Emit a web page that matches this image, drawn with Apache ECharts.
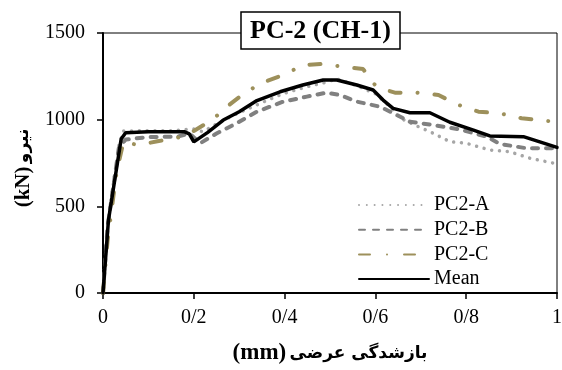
<!DOCTYPE html>
<html>
<head>
<meta charset="utf-8">
<script src="https://cdn.jsdelivr.net/npm/echarts@6/dist/echarts.min.js"></script>
<style>html,body{margin:0;padding:0;background:#fff}#c{width:562px;height:370px}</style>
</head>
<body>
<div id="c"></div>
<script>
const seriesNames = ['PC2-A', 'PC2-B', 'PC2-C', 'Mean'];
const xTickLabels = ['0', '0/2', '0/4', '0/6', '0/8', '1'];
const yTickLabels = ['0', '500', '1000', '1500'];

const pc2A = [[0,0],[0.01,400],[0.035,850],[0.045,935],[0.1,936],[0.15,936],[0.2,946],[0.22,930],[0.26,990],[0.3,1040],[0.346,1094],[0.397,1150],[0.449,1190],[0.49,1215],[0.515,1235],[0.56,1195],[0.6,1150],[0.63,1080],[0.654,1010],[0.69,965],[0.72,931],[0.764,873],[0.8,864],[0.852,825],[0.896,815],[0.941,777],[1,745]];
const pc2B = [[0,0],[0.01,380],[0.035,840],[0.05,885],[0.1,900],[0.165,902],[0.19,921],[0.214,864],[0.25,920],[0.294,979],[0.339,1046],[0.397,1104],[0.449,1133],[0.493,1156],[0.522,1142],[0.559,1104],[0.61,1075],[0.647,1027],[0.676,988],[0.728,969],[0.786,944],[0.845,902],[0.874,860],[0.933,835],[1,835]];
const pc2C = [[0,0],[0.01,300],[0.03,700],[0.045,870],[0.078,854],[0.12,875],[0.175,902],[0.2,935],[0.24,998],[0.278,1085],[0.313,1156],[0.353,1215],[0.397,1258],[0.441,1315],[0.482,1321],[0.529,1306],[0.573,1292],[0.595,1210],[0.61,1181],[0.643,1156],[0.691,1156],[0.739,1142],[0.783,1085],[0.827,1046],[0.874,1037],[0.922,1008],[0.974,994],[1,985]];
const mean = [[0,0],[0.012,420],[0.04,888],[0.05,925],[0.1,930],[0.18,930],[0.19,918],[0.2,872],[0.23,925],[0.265,998],[0.3,1046],[0.339,1110],[0.39,1161],[0.44,1200],[0.485,1229],[0.515,1229],[0.559,1200],[0.595,1171],[0.617,1113],[0.639,1065],[0.676,1040],[0.72,1040],[0.764,985],[0.816,940],[0.852,906],[0.926,902],[1,840]];

const FF = "'Liberation Serif', 'DejaVu Serif', serif";
const FA = "'DejaVu Sans', sans-serif";
const chart = echarts.init(document.getElementById('c'), null, {renderer: 'canvas'});

const styles = [
  {color: '#a6a6a6', width: 3.5, type: [0.01, 7.8], cap: 'round'},
  {color: '#808080', width: 4, type: [6, 8], cap: 'round'},
  {color: '#9d905b', width: 4, type: [11, 17, 0.01, 17], cap: 'round'},
  {color: '#000000', width: 3.5, type: 'solid', cap: 'round'}
];
const datas = [pc2A, pc2B, pc2C, mean];

chart.setOption({
  animation: false,
  title: {
    text: 'PC-2 (CH-1)',
    left: 241, top: 12,
    padding: [6, 9, 5, 9],
    borderColor: '#000', borderWidth: 1.5, backgroundColor: '#fff',
    textStyle: {fontFamily: FF, fontWeight: 'bold', fontSize: 26, color: '#000'}
  },
  legend: {
    orient: 'vertical', left: 358, top: 195,
    itemWidth: 70, itemHeight: 14, itemGap: 4.7, padding: 0,
    data: seriesNames,
    itemStyle: {opacity: 0},
    textStyle: {fontFamily: FF, fontSize: 20, lineHeight: 20, color: '#000'}
  },
  grid: {left: 103, top: 33, width: 454, height: 260, show: true, borderColor: '#000', borderWidth: 1,
    backgroundColor: 'transparent', containLabel: false, outerBoundsMode: 'none'},
  xAxis: {
    type: 'value', min: 0, max: 1, interval: 0.2,
    name: '{a|(mm)} {b|بازشدگی عرضی}', nameLocation: 'middle', nameGap: 49,
    nameTextStyle: {rich: {
      a: {fontFamily: FF, fontWeight: 'bold', fontSize: 23, color: '#000'},
      b: {fontFamily: FA, fontWeight: 'bold', fontSize: 17, color: '#000'}
    }},
    axisLine: {show: true, lineStyle: {color: '#000', width: 2}},
    axisTick: {show: true, inside: false, length: 6, lineStyle: {color: '#000', width: 1.5}},
    splitLine: {show: false},
    axisLabel: {margin: 15, fontFamily: FF, fontSize: 20, color: '#000',
      formatter: v => xTickLabels[Math.round(v / 0.2)]}
  },
  yAxis: {
    type: 'value', min: 0, max: 1500, interval: 500,
    name: '{a|(kN)} {b|نیرو}', nameLocation: 'middle', nameGap: 68, nameRotate: 90,
    nameTextStyle: {padding: [0, 10, 0, 0], rich: {
      a: {fontFamily: FF, fontWeight: 'bold', fontSize: 21, color: '#000'},
      b: {fontFamily: FA, fontWeight: 'bold', fontSize: 17, color: '#000'}
    }},
    axisLine: {show: true, lineStyle: {color: '#000', width: 2}},
    axisTick: {show: true, inside: false, length: 6, lineStyle: {color: '#000', width: 1.5}},
    splitLine: {show: false},
    axisLabel: {margin: 18, fontFamily: FF, fontSize: 20, color: '#000',
      formatter: v => yTickLabels[Math.round(v / 500)]}
  },
  series: seriesNames.map((n, i) => ({
    name: n, type: 'line', data: datas[i], symbol: 'none', showSymbol: false,
    lineStyle: styles[i], itemStyle: {color: styles[i].color}, z: 2 + i
  }))
});
</script>
</body>
</html>
